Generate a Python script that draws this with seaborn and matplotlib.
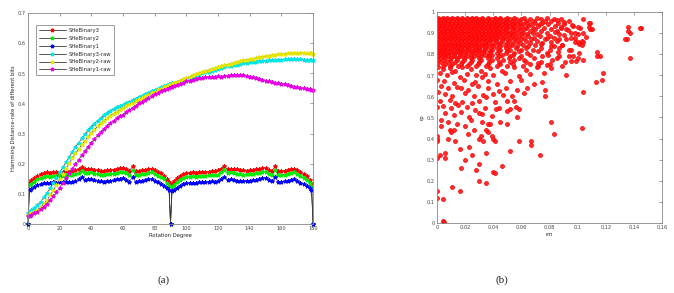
import numpy as np
import pandas as pd
import matplotlib
matplotlib.use("Agg")
import matplotlib.pyplot as plt
import seaborn as sns
from matplotlib.lines import Line2D

# ---------------- data: panel (a) ----------------
angles = [0, 1,
          2, 4, 6, 8, 10, 12, 14, 16, 18, 20, 22, 24, 26, 28, 30, 32, 34, 36, 38, 40,
          42, 44, 46, 48, 50, 52, 54, 56, 58, 60, 62, 64, 66, 68, 70, 72, 74, 76, 78, 80,
          82, 84, 86, 88,
          89, 90, 91,
          92, 94, 96, 98, 100, 102, 104, 106, 108, 110, 112, 114, 116, 118, 120, 122, 124, 126, 128, 130,
          132, 134, 136, 138, 140, 142, 144, 146, 148, 150, 152, 154, 156, 158, 160, 162, 164, 166, 168, 170,
          172, 174, 176, 178,
          179, 180]

bin3 = [0, .138,
        .145, .152, .16, .166, .168, .171, .17, .172, .171, .173,
        .172, .175, .174, .176, .178, .183, .189, .181, .183, .184,
        .18, .178, .177, .176, .178, .179, .18, .183, .185, .187,
        .181, .176, .191, .176, .177, .178, .18, .183, .184, .178,
        .173, .168, .16, .148,
        .138, 0, .134,
        .143, .152, .159, .165, .169, .17, .171, .17, .172, .173,
        .172, .174, .176, .175, .178, .184, .192, .182, .184, .182,
        .182, .179, .178, .177, .178, .18, .181, .183, .186, .187,
        .18, .177, .191, .176, .175, .177, .179, .182, .184, .179,
        .172, .167, .159, .147,
        .135, 0]

bin2 = [0, .128,
        .132, .14, .148, .153, .155, .158, .157, .159, .158, .16,
        .159, .162, .161, .163, .165, .17, .176, .168, .17, .171,
        .167, .165, .164, .163, .165, .166, .167, .17, .172, .174,
        .168, .163, .178, .163, .164, .165, .167, .17, .171, .165,
        .16, .155, .148, .137,
        .127, 0, .124,
        .131, .14, .147, .152, .156, .157, .158, .157, .159, .16,
        .159, .161, .163, .162, .164, .171, .179, .169, .171, .169,
        .166, .165, .164, .165, .166, .167, .168, .17, .173, .174,
        .167, .164, .178, .163, .162, .164, .166, .169, .171, .166,
        .159, .154, .147, .136,
        .125, 0]

bin1 = [0, .112,
        .115, .122, .128, .133, .135, .137, .136, .138, .137, .139,
        .138, .14, .139, .141, .143, .148, .156, .146, .148, .149,
        .145, .143, .142, .141, .143, .144, .145, .148, .15, .152,
        .146, .141, .155, .141, .142, .143, .145, .148, .149, .143,
        .138, .133, .127, .12,
        .114, 0, .11,
        .114, .121, .127, .132, .135, .136, .137, .136, .138, .139,
        .138, .14, .142, .141, .143, .149, .157, .147, .149, .147,
        .144, .143, .142, .143, .144, .145, .146, .148, .151, .152,
        .145, .142, .155, .141, .14, .142, .144, .147, .149, .144,
        .137, .132, .126, .118,
        .112, 0]

raw3 = [.035, .04,
        .045, .052, .062, .074, .088, .103, .119, .136, .154, .172,
        .188, .205, .222, .24, .256, .27, .284, .298, .311, .323,
        .333, .343, .352, .361, .369, .376, .382, .387, .392, .396,
        .401, .406, .411, .416, .421, .426, .431, .436, .44, .445,
        .449, .453, .457, .461,
        .463, .465, .467,
        .469, .472, .475, .478, .481, .484, .488, .492, .496, .5,
        .503, .506, .509, .512, .515, .518, .52, .523, .525, .527,
        .529, .531, .533, .535, .536, .538, .539, .54, .541, .542,
        .543, .544, .544, .545, .545, .546, .546, .546, .546, .546,
        .546, .545, .545, .545,
        .545, .544]

raw2 = [.03, .032,
        .035, .04, .047, .056, .067, .08, .095, .112, .13, .148,
        .166, .184, .201, .218, .234, .249, .263, .277, .29, .302,
        .313, .324, .334, .343, .351, .359, .366, .373, .379, .385,
        .391, .397, .403, .409, .414, .419, .424, .429, .434, .439,
        .444, .449, .454, .458,
        .46, .462, .465,
        .467, .472, .476, .481, .485, .489, .493, .497, .501, .505,
        .508, .511, .514, .517, .52, .523, .526, .529, .532, .535,
        .538, .54, .543, .545, .547, .549, .551, .553, .555, .557,
        .559, .56, .562, .563, .564, .565, .566, .567, .568, .568,
        .568, .567, .567, .566,
        .566, .565]

raw1 = [.025, .027,
        .03, .035, .041, .049, .058, .068, .079, .092, .106, .121,
        .137, .153, .168, .183, .198, .213, .228, .242, .256, .27,
        .282, .294, .305, .316, .326, .335, .343, .351, .357, .363,
        .371, .379, .386, .393, .4, .406, .412, .418, .424, .43,
        .435, .44, .445, .449,
        .451, .453, .455,
        .457, .461, .465, .469, .473, .476, .479, .482, .484, .486,
        .487, .488, .488, .489, .49, .489, .491, .492, .494, .495,
        .495, .494, .493, .491, .489, .487, .485, .482, .479, .476,
        .473, .471, .469, .467, .465, .466, .462, .459, .456, .454,
        .452, .45, .448, .447,
        .446, .444]

series_names = ["SHeBinary3", "SHeBinary2", "SHeBinary1",
                "SHeBinary3-raw", "SHeBinary2-raw", "SHeBinary1-raw"]
series_values = [bin3, bin2, bin1, raw3, raw2, raw1]
series_colors = ["#ff0000", "#00ee00", "#0000ff", "#00e5e5", "#e5e500", "#e500e5"]

# ---------------- data: panel (b) ----------------
# dense cluster, row by row: rp value -> rm values
cluster_rows = {
    0.972: [.001, .004, .007, .011, .014, .018, .021, .025, .028, .032, .036, .041, .045, .05, .055, .062, .071, .078],
    0.965: [.000, .003, .006, .009, .012, .015, .018, .021, .024, .027, .030, .033, .036, .039, .042, .045, .048, .052, .056, .06, .066, .074, .083, .088, .104],
    0.958: [.002, .005, .008, .011, .014, .017, .020, .023, .026, .029, .032, .035, .038, .041, .044, .047, .050, .054, .058, .063, .069, .077, .081, .094],
    0.950: [.000, .003, .006, .009, .012, .015, .018, .021, .024, .027, .030, .033, .036, .039, .042, .045, .048, .051, .055, .059, .064, .07, .075, .086, .109],
    0.942: [.001, .004, .007, .010, .013, .016, .019, .022, .025, .028, .031, .034, .037, .040, .043, .046, .049, .053, .057, .061, .067, .073, .079, .09],
    0.934: [.000, .003, .006, .009, .012, .015, .018, .021, .024, .027, .030, .033, .036, .039, .042, .045, .048, .051, .055, .06, .065, .072, .084, .097],
    0.926: [.002, .005, .008, .011, .014, .017, .020, .023, .026, .029, .032, .035, .038, .041, .044, .047, .050, .054, .058, .063, .068, .076, .088, .102, .145],
    0.918: [.000, .003, .006, .009, .012, .015, .018, .021, .024, .027, .030, .033, .036, .039, .042, .045, .049, .053, .057, .062, .07, .081, .092, .109],
    0.910: [.001, .004, .007, .010, .013, .016, .019, .022, .025, .028, .031, .034, .037, .040, .043, .046, .05, .054, .059, .066, .074, .085],
    0.902: [.000, .003, .006, .009, .012, .015, .018, .021, .024, .027, .030, .033, .036, .039, .042, .045, .048, .052, .056, .061, .068, .078, .095, .137],
    0.894: [.002, .005, .008, .011, .014, .017, .020, .023, .026, .029, .032, .035, .038, .041, .044, .047, .051, .055, .06, .064, .071, .087, .1],
    0.886: [.000, .003, .006, .009, .012, .015, .018, .021, .024, .027, .030, .033, .036, .039, .042, .045, .049, .053, .058, .065, .073, .08],
    0.878: [.001, .004, .007, .010, .013, .016, .019, .022, .025, .028, .031, .034, .037, .040, .043, .047, .052, .056, .062, .069, .083, .098],
    0.870: [.000, .003, .006, .009, .012, .015, .018, .021, .024, .027, .030, .033, .036, .039, .042, .046, .05, .055, .06, .067, .077, .092, .135],
    0.862: [.002, .005, .008, .011, .014, .017, .020, .023, .026, .029, .032, .035, .038, .042, .046, .051, .057, .063, .071, .085, .103],
    0.854: [.000, .003, .006, .009, .012, .015, .018, .021, .024, .027, .030, .034, .037, .041, .045, .05, .054, .059, .066, .075],
    0.846: [.001, .004, .007, .010, .013, .016, .019, .022, .025, .028, .032, .035, .039, .044, .048, .053, .061, .07, .089, .103],
    0.838: [.000, .003, .006, .009, .012, .015, .018, .021, .024, .028, .031, .035, .04, .045, .051, .057, .065, .081],
    0.830: [.002, .005, .008, .011, .014, .017, .020, .023, .027, .03, .034, .038, .043, .049, .056, .063, .074, .087],
    0.822: [.000, .003, .006, .009, .012, .015, .018, .022, .026, .03, .034, .039, .045, .052, .06, .068, .095],
    0.814: [.001, .004, .007, .010, .014, .017, .021, .025, .029, .033, .038, .044, .05, .058, .072],
    0.806: [.000, .003, .006, .009, .013, .016, .02, .024, .028, .032, .037, .043, .049, .055, .064, .078, .101],
    0.798: [.002, .005, .008, .012, .016, .02, .024, .029, .034, .039, .046, .054, .066],
    0.790: [.000, .004, .008, .012, .016, .021, .026, .031, .037, .044, .052, .06, .075, .087, .116],
    0.781: [.002, .006, .01, .014, .019, .024, .03, .036, .043, .051, .058, .069],
    0.772: [.001, .005, .009, .014, .019, .025, .031, .039, .047, .055, .062, .082, .104],
    0.763: [.003, .008, .013, .018, .024, .03, .037, .044, .052, .063, .074],
    0.754: [.000, .006, .011, .017, .023, .029, .036, .045, .054, .066, .08],
    0.745: [.004, .009, .015, .021, .028, .035, .043, .05, .061, .072, .089],
}

fringe_points = [
    (.085, .96), (.09, .955), (.096, .94), (.088, .93), (.093, .915), (.098, .90), (.084, .905),
    (.09, .89), (.095, .875), (.087, .87), (.081, .86), (.083, .84), (.089, .845), (.094, .82),
    (.086, .81), (.079, .795), (.085, .78), (.091, .765), (.072, .76), (.078, .75), (.08, .82),
    (.074, .85), (.078, .875), (.1, .93), (.104, .9), (.098, .86), (.094, .79), (.106, .88),
    (.108, .95), (.108, .93), (.11, .92), (.136, .93), (.136, .91), (.134, .87), (.137, .78),
    (.144, .924), (.114, .81), (.114, .79), (.1, .86), (.101, .85), (.104, .86), (.097, .79),
    (.1, .78), (.099, .77), (.095, .77),
]

sparse_points = [
    (.001, .74), (.004, .73), (.009, .735), (.013, .72), (.018, .74), (.024, .73), (.031, .72),
    (.038, .735), (.046, .72), (.055, .74), (.063, .725), (.071, .74), (.081, .735),
    (.002, .71), (.007, .7), (.011, .715), (.016, .69), (.021, .705), (.028, .7), (.032, .69),
    (.034, .705), (.04, .7), (.048, .71), (.058, .695), (.066, .705), (.076, .71), (.092, .70),
    (.000, .68), (.005, .675), (.012, .665), (.019, .68), (.025, .66), (.027, .67), (.036, .675),
    (.043, .66), (.052, .675), (.06, .68), (.069, .66), (.075, .67),
    (.003, .65), (.008, .64), (.014, .645), (.017, .64), (.022, .63), (.029, .65), (.036, .64),
    (.044, .625), (.049, .64), (.057, .63), (.064, .64), (.077, .63),
    (.001, .62), (.006, .61), (.011, .6), (.02, .615), (.026, .6), (.033, .605), (.035, .595),
    (.04, .61), (.047, .605), (.053, .6), (.062, .615), (.077, .6), (.104, .62),
    (.113, .67), (.117, .68), (.118, .71),
    (.002, .58), (.009, .585), (.013, .57), (.018, .575), (.025, .57), (.03, .58), (.041, .575),
    (.05, .58), (.055, .58),
    (.004, .555), (.01, .545), (.015, .56), (.021, .55), (.027, .535), (.034, .545), (.042, .54),
    (.044, .545), (.052, .54), (.058, .54), (.056, .55),
    (.000, .55), (.006, .52), (.012, .51), (.017, .525), (.023, .5), (.03, .52), (.032, .515),
    (.039, .505), (.05, .53), (.057, .5),
    (.003, .49), (.008, .48), (.014, .47), (.02, .46), (.024, .49), (.032, .48), (.036, .47),
    (.045, .48), (.05, .47), (.081, .48),
    (.003, .46), (.009, .44), (.01, .43), (.012, .44), (.022, .42), (.026, .44), (.035, .44),
    (.036, .43), (.038, .47), (.083, .42), (.103, .45),
    (.000, .41), (.000, .40), (.000, .39), (.008, .4), (.013, .39), (.03, .4), (.031, .41),
    (.033, .39), (.039, .41), (.04, .4), (.041, .39), (.058, .39), (.067, .39), (.067, .37),
    (.006, .33), (.002, .32), (.000, .31), (.006, .31), (.016, .35), (.023, .36), (.025, .32),
    (.02, .3), (.03, .28), (.035, .33), (.052, .34), (.073, .32),
    (.017, .26), (.028, .25), (.04, .24), (.041, .235), (.046, .27), (.03, .2), (.035, .19),
    (.011, .17), (.016, .15), (.004, .115), (.000, .12), (.000, .15), (.004, .01), (.005, .005),
]

x_ticks_a = [0, 20, 40, 60, 80, 100, 120, 140, 160, 180]
y_ticks_a = [0, 0.1, 0.2, 0.3, 0.4, 0.5, 0.6, 0.7]
y_ticklabels_a = ["0", "0,1", "0,2", "0,3", "0,4", "0,5", "0,6", "0,7"]
x_ticks_b = [0, 0.02, 0.04, 0.06, 0.08, 0.1, 0.12, 0.14, 0.16]
x_ticklabels_b = ["0", "0,02", "0,04", "0,06", "0,08", "0,1", "0,12", "0,14", "0,16"]
y_ticks_b = [0, 0.1, 0.2, 0.3, 0.4, 0.5, 0.6, 0.7, 0.8, 0.9, 1.0]
y_ticklabels_b = ["0", "0,1", "0,2", "0,3", "0,4", "0,5", "0,6", "0,7", "0,8", "0,9", "1"]

# ---------------- build figure ----------------
sns.set_style("white")
plt.rcParams['font.family'] = ['DejaVu Sans']

fig = plt.figure(figsize=(6.74, 2.93), dpi=100)
ax1 = fig.add_axes([0.0415, 0.2355, 0.4230, 0.7200])
ax2 = fig.add_axes([0.6484, 0.2390, 0.3338, 0.7200])

TICK_FS = 3.6
LINE_COL = "#3a3a3a"

df_a = pd.DataFrame({"angle": angles})
for name, vals in zip(series_names, series_values):
    df_a[name] = vals

for name, col in zip(series_names, series_colors):
    sns.lineplot(data=df_a, x="angle", y=name, ax=ax1, color=LINE_COL,
                 linewidth=0.5, marker="*", markersize=3.0,
                 markerfacecolor=col, markeredgecolor=col, markeredgewidth=0.7,
                 estimator=None, sort=False, legend=False, clip_on=False)

ax1.set_xlim(0, 180)
ax1.set_ylim(0, 0.7)
ax1.set_xticks(x_ticks_a)
ax1.set_xticklabels([str(v) for v in x_ticks_a])
ax1.set_yticks(y_ticks_a)
ax1.set_yticklabels(y_ticklabels_a)
ax1.set_xlabel("Rotation Degree", fontsize=3.8, labelpad=1.5)
ax1.set_ylabel("Hamming Distance-rate of different bits", fontsize=3.8, labelpad=1.5)

handles = [Line2D([0], [0], color=LINE_COL, linewidth=0.6, marker="*", markersize=2.6,
                  markerfacecolor=c, markeredgecolor=c) for c in series_colors]
leg = ax1.legend(handles, series_names, loc="upper left", bbox_to_anchor=(0.028, 0.945),
                 fontsize=3.8, frameon=True, fancybox=False, handlelength=5.0,
                 labelspacing=0.55, borderpad=0.6, handletextpad=0.6, borderaxespad=0)
leg.get_frame().set_edgecolor("#555555")
leg.get_frame().set_linewidth(0.5)

# panel (b)
rm_vals, rp_vals = [], []
for rp, xs in cluster_rows.items():
    for x in xs:
        rm_vals.append(x)
        rp_vals.append(rp)
for x, y in fringe_points + sparse_points:
    rm_vals.append(x)
    rp_vals.append(y)
df_b = pd.DataFrame({"rm": rm_vals, "rp": rp_vals})

sns.scatterplot(data=df_b, x="rm", y="rp", ax=ax2, marker="o", s=8,
                color="#ff1a1a", edgecolor="#ff0000", linewidth=0.6, alpha=0.9)
ax2.set_xlim(0, 0.16)
ax2.set_ylim(0, 1.0)
ax2.set_xticks(x_ticks_b)
ax2.set_xticklabels(x_ticklabels_b)
ax2.set_yticks(y_ticks_b)
ax2.set_yticklabels(y_ticklabels_b)
ax2.set_xlabel("rm", fontsize=3.8, labelpad=1.5)
ax2.set_ylabel("rp", fontsize=3.8, labelpad=1.5)

for ax in (ax1, ax2):
    ax.tick_params(direction="in", top=True, right=True, length=2, width=0.4,
                   labelsize=TICK_FS, pad=1.5, colors="#555555", labelcolor="#444444")
    for sp in ax.spines.values():
        sp.set_visible(True)
        sp.set_color("#888888")
        sp.set_linewidth(0.6)

fig.text(0.2433, 0.045, "(a)", ha="center", va="center", fontsize=8,
         family=["Liberation Serif", "DejaVu Serif"])
fig.text(0.7448, 0.045, "(b)", ha="center", va="center", fontsize=8,
         family=["Liberation Serif", "DejaVu Serif"])

fig.savefig("out.png", dpi=100)
